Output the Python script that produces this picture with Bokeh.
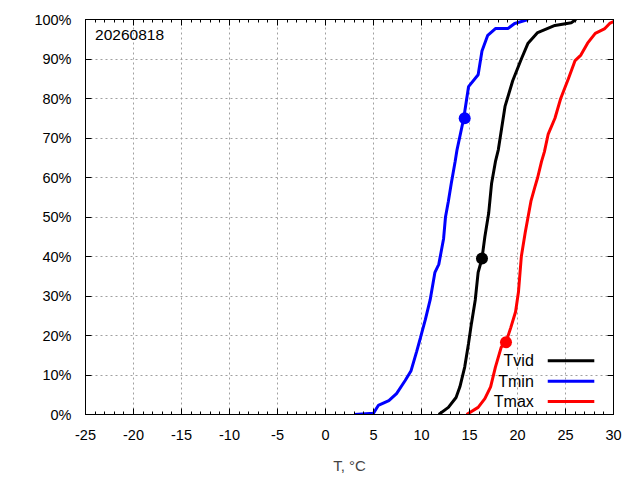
from bokeh.plotting import figure
from bokeh.models import (Range1d, FixedTicker, LinearAxis, PrintfTickFormatter,
                          Label, BoxAnnotation, CustomLabelingPolicy)
from bokeh.embed import file_html
from bokeh.resources import INLINE

# ---- data ----
tmin_t = [3.0, 5.0, 5.5, 6.6, 7.4, 8.3, 8.9, 9.5, 9.9, 10.4, 10.9, 11.4, 11.8, 12.3, 12.5,
          12.8, 13.1, 13.5, 13.7, 14.4, 14.9, 15.9, 16.3, 16.9, 17.7, 19.0, 19.7, 21.1]
tmin_p = [0, 0.3, 2.3, 3.5, 5.3, 8.6, 11, 16, 19.5, 24, 29, 36, 38, 44.5, 50,
          54, 58.5, 64, 67, 75, 83, 86, 92, 96, 97.7, 97.7, 99, 100]

tvid_t = [11.8, 12.8, 13.6, 14.0, 14.5, 14.9, 15.2, 15.6, 15.9, 16.3, 16.6, 17.0, 17.3,
          17.7, 18.0, 18.7, 19.5, 20.4, 21.1, 22.1, 23.9, 25.6, 26.1]
tvid_p = [0, 1.8, 4.3, 7, 12, 18, 23, 29, 36, 39.5, 45, 51, 58.5,
          64, 67, 78, 84.5, 90, 94, 96.7, 98.5, 99.2, 100]

tmax_t = [14.7, 15.9, 16.6, 17.2, 17.7, 18.3, 18.8, 19.3, 19.8, 20.1, 20.4, 20.8, 21.1,
          21.4, 21.8, 22.1, 22.5, 22.8, 23.2, 23.9, 24.5, 25.3, 26.0, 26.6, 27.3, 28.1,
          29.1, 29.6, 30.0]
tmax_p = [0, 1.8, 4, 7, 12, 17, 18.3, 22, 26, 31, 40, 46, 50,
          54, 57.5, 60, 64, 66.5, 71, 75, 80, 85, 89.6, 91, 94, 96.5,
          97.7, 99, 99.5]

today_t = [16.3, 14.5, 18.8]   # Tvid, Tmin, Tmax
today_p = [39.5, 75.0, 18.3]

series_names = ["Tvid", "Tmin", "Tmax"]
series_colors = ["#000000", "#0000ff", "#ff0000"]
date_label = "20260818"
x_label = "T, °C"
x_ticks = list(range(-25, 31, 5))
x_minor = list(range(-25, 31))
y_ticks = list(range(0, 101, 10))

FONT = "Liberation Sans"

p = figure(width=640, height=480, output_backend="svg", toolbar_location=None,
           x_range=Range1d(-25, 30), y_range=Range1d(0, 100),
           min_border_left=85, min_border_right=24, min_border_top=19, min_border_bottom=66)
p.background_fill_color = "white"
p.border_fill_color = "white"
p.outline_line_color = "black"
p.outline_line_width = 1

# axes
p.xaxis.ticker = FixedTicker(ticks=x_ticks, minor_ticks=x_minor)
p.yaxis.ticker = FixedTicker(ticks=y_ticks, minor_ticks=[])
p.xaxis.formatter = PrintfTickFormatter(format="%d")
p.yaxis.formatter = PrintfTickFormatter(format="%d%%")
for ax in (p.xaxis[0], p.yaxis[0]):
    ax.axis_line_color = "black"
    ax.major_tick_in = 6
    ax.major_tick_out = 0
    ax.minor_tick_in = 3
    ax.minor_tick_out = 0
    ax.major_tick_line_color = "black"
    ax.minor_tick_line_color = "black"
    ax.major_label_text_font = FONT
    ax.major_label_text_font_size = "14.5px"
    ax.major_label_text_color = "black"
p.xaxis.major_label_standoff = 15
p.yaxis.major_label_standoff = 14
p.xaxis.axis_label = x_label
p.xaxis.axis_label_text_font = FONT
p.xaxis.axis_label_text_font_size = "15px"
p.xaxis.axis_label_text_font_style = "normal"
p.xaxis.axis_label_standoff = 14

hide = CustomLabelingPolicy(code="for (const i of indices) indices.unset(i); return indices")
top = LinearAxis(ticker=FixedTicker(ticks=x_ticks, minor_ticks=x_minor),
                 major_label_policy=hide, major_label_standoff=0,
                 major_label_text_font_size="14.5px",
                 major_tick_in=6, major_tick_out=0, minor_tick_in=3, minor_tick_out=0)
hide2 = CustomLabelingPolicy(code="for (const i of indices) indices.unset(i); return indices")
right = LinearAxis(ticker=FixedTicker(ticks=y_ticks, minor_ticks=[]),
                   major_label_policy=hide2, major_label_standoff=0,
                   major_label_text_font_size="14.5px",
                   major_tick_in=6, major_tick_out=0, minor_tick_in=0, minor_tick_out=0)
p.add_layout(top, "above")
p.add_layout(right, "right")

# grid
p.xgrid.ticker = FixedTicker(ticks=x_ticks)
p.ygrid.ticker = FixedTicker(ticks=y_ticks)
for g in (p.xgrid[0], p.ygrid[0]):
    g.grid_line_color = "#a0a0a0"
    g.grid_line_dash = "2 3"
    g.grid_line_width = 1

# curves
p.line(tvid_t, tvid_p, line_color=series_colors[0], line_width=3)
p.line(tmin_t, tmin_p, line_color=series_colors[1], line_width=3)
p.line(tmax_t, tmax_p, line_color=series_colors[2], line_width=3)
p.scatter(today_t, today_p, size=12, color=series_colors, line_color=None)

# legend: text on the left, line sample on the right
leg_y = [13.6, 8.4, 3.3]
for name, col, yy in zip(series_names, series_colors, leg_y):
    p.add_layout(Label(x=21.7, y=yy, text=name, text_align="right", text_baseline="middle",
                       text_font=FONT, text_font_size="16px", text_color="black"))
    p.add_layout(BoxAnnotation(left=23.15, right=28.0, bottom=yy - 0.38, top=yy + 0.38,
                               fill_color=col, fill_alpha=1.0, line_color=None))

p.add_layout(Label(x=-24.0, y=96.2, text=date_label, text_align="left", text_baseline="middle",
                   text_font=FONT, text_font_size="15.5px", text_color="black"))

open("out.html", "w").write(file_html(p, INLINE))
